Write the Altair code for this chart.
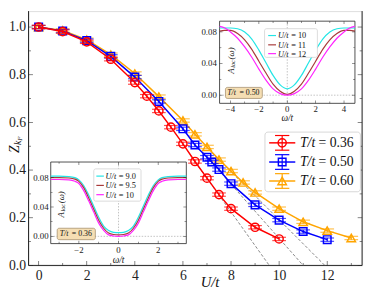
import altair as alt
import pandas as pd

# ---------------- main data ----------------
U_036 = [0, 1, 2, 3, 4, 4.5, 5, 5.5, 6, 6.5, 7, 7.5, 8, 9, 10]
Z_036 = [1.0, 0.981, 0.938, 0.865, 0.767, 0.710, 0.648, 0.580, 0.510, 0.436, 0.366, 0.297, 0.238, 0.160, 0.111]
U_050 = [0, 1, 2, 3, 4, 5, 6, 6.5, 7, 7.2, 7.5, 8, 9, 10, 11, 12]
Z_050 = [1.0, 0.983, 0.943, 0.877, 0.790, 0.688, 0.573, 0.505, 0.454, 0.434, 0.402, 0.343, 0.254, 0.190, 0.142, 0.108]
U_060 = [0, 1, 2, 3, 4, 5, 6, 6.5, 7, 7.5, 8, 8.5, 9, 10, 11, 12, 13]
Z_060 = [1.0, 0.986, 0.947, 0.884, 0.805, 0.708, 0.608, 0.550, 0.497, 0.444, 0.396, 0.348, 0.306, 0.238, 0.183, 0.146, 0.115]
ERR = 0.007
LEGEND_T = ["0.36", "0.50", "0.60"]

# dashed linear extrapolations
DASH_X0 = [6.3, 6.8, 7.2]
DASH_Y0 = [0.464, 0.477, 0.474]
DASH_X1 = [9.59, 11.0, 11.9]
DASH_Y1 = [0.0, 0.0, 0.0]

# ---------------- inset 1 (T/t = 0.50) ----------------
W1 = [-4.77, -4.4, -4.0, -3.5, -3.0, -2.5, -2.0, -1.5, -1.0, -0.5, 0.0,
      0.5, 1.0, 1.5, 2.0, 2.5, 3.0, 3.5, 4.0, 4.4, 4.77]
A1_U10 = [0.085, 0.085, 0.085, 0.084, 0.080, 0.071, 0.057, 0.041, 0.025, 0.013, 0.008,
          0.013, 0.025, 0.041, 0.057, 0.071, 0.080, 0.084, 0.085, 0.085, 0.085]
A1_U11 = [0.081, 0.082, 0.082, 0.078, 0.070, 0.058, 0.043, 0.028, 0.014, 0.005, 0.001,
          0.005, 0.014, 0.028, 0.043, 0.058, 0.070, 0.078, 0.082, 0.082, 0.081]
A1_U12 = [0.087, 0.085, 0.080, 0.072, 0.061, 0.048, 0.033, 0.019, 0.008, 0.002, 0.000,
          0.002, 0.008, 0.019, 0.033, 0.048, 0.061, 0.072, 0.080, 0.085, 0.087]
INSET1_LABELS = ["10", "11", "12"]

# ---------------- inset 2 (T/t = 0.36) ----------------
W2 = [-3.42, -3.0, -2.5, -2.2, -2.0, -1.75, -1.5, -1.25, -1.0, -0.75, -0.5, -0.25, 0.0,
      0.25, 0.5, 0.75, 1.0, 1.25, 1.5, 1.75, 2.0, 2.2, 2.5, 3.0, 3.42]
A2_U90 = [0.082, 0.082, 0.0815, 0.080, 0.077, 0.069, 0.056, 0.041, 0.026, 0.014, 0.008, 0.0055, 0.005,
          0.0055, 0.008, 0.014, 0.026, 0.041, 0.056, 0.069, 0.077, 0.080, 0.0815, 0.082, 0.082]
A2_U95 = [0.080, 0.080, 0.0795, 0.078, 0.075, 0.066, 0.052, 0.037, 0.022, 0.011, 0.0045, 0.0025, 0.002,
          0.0025, 0.0045, 0.011, 0.022, 0.037, 0.052, 0.066, 0.075, 0.078, 0.0795, 0.080, 0.080]
A2_U10 = [0.0775, 0.0775, 0.077, 0.075, 0.072, 0.062, 0.048, 0.033, 0.018, 0.008, 0.002, 0.0005, 0.0,
          0.0005, 0.002, 0.008, 0.018, 0.033, 0.048, 0.062, 0.072, 0.075, 0.077, 0.0775, 0.0775]
INSET2_LABELS = ["9.0", "9.5", "10"]

# ---------------- layout (page pixels) ----------------
OX, OY = 29, 8          # plot-area origin on the page
W, H = 341, 260
XDOM = [-0.42, 13.45]
YDOM = [0.0, 1.0669]
SERIF = "Liberation Serif"
FRAME = "#222222"

def px(x):
    return x - OX

def py(y):
    return y - OY

def sc(dom, rng):
    return alt.Scale(domain=dom, range=rng, nice=False, zero=False)

MX = lambda: sc(XDOM, [0, W])
MY = lambda: sc(YDOM, [H, 0])

layers = []

def text(s, x, y, size, italic=False, align="left", baseline="middle", angle=0, color="#111111"):
    kw = dict(font=SERIF, fontSize=size, align=align, baseline=baseline, color=color)
    if italic:
        kw["fontStyle"] = "italic"
    if angle:
        kw["angle"] = angle
    return alt.Chart(pd.DataFrame({"t": [s]})).mark_text(**kw).encode(
        x=alt.value(px(x)), y=alt.value(py(y)), text="t:N")

def box(x0, x1, y0, y1, fill, stroke, sw=0.8, r=0):
    return alt.Chart(pd.DataFrame({"a": [0]})).mark_rect(
        fill=fill, stroke=stroke, strokeWidth=sw, cornerRadius=r).encode(
        x=alt.value(px(x0)), x2=alt.value(px(x1)), y=alt.value(py(y0)), y2=alt.value(py(y1)))

def seg(x0, x1, y0, y1, color, sw=1.0, dash=None):
    kw = dict(color=color, strokeWidth=sw)
    if dash:
        kw["strokeDash"] = dash
    return alt.Chart(pd.DataFrame({"a": [0]})).mark_rule(**kw).encode(
        x=alt.value(px(x0)), x2=alt.value(px(x1)), y=alt.value(py(y0)), y2=alt.value(py(y1)))

# ---------------- main axes (labels only) ----------------
axis_df = pd.DataFrame({"U": [0.0], "Z": [1.0]})
layers.append(alt.Chart(axis_df).mark_point(opacity=0).encode(
    x=alt.X("U:Q", scale=MX(), axis=alt.Axis(values=[0, 2, 4, 6, 8, 10, 12], ticks=False, domain=False,
            grid=False, title=None, labelFont=SERIF, labelFontSize=14, labelColor="#222",
            labelPadding=3, labelFlush=False)),
    y=alt.Y("Z:Q", scale=MY(), axis=alt.Axis(values=[0.0, 0.2, 0.4, 0.6, 0.8, 1.0], format=".1f",
            ticks=False, domain=False, grid=False, title=None, labelFont=SERIF, labelFontSize=14,
            labelColor="#222", labelPadding=3, labelFlush=False))))

# main frame (left, bottom, right)
layers.append(seg(OX, OX, OY, OY + H, FRAME))
layers.append(seg(OX, OX + W, OY + H, OY + H, FRAME))
layers.append(seg(OX + W, OX + W, OY, OY + H, FRAME))

# inward ticks, main
XT_MAJ = [0, 2, 4, 6, 8, 10, 12]
XT_MIN = [1, 3, 5, 7, 9, 11, 13]
YT_MAJ = [0.0, 0.2, 0.4, 0.6, 0.8, 1.0]
YT_MIN = [0.1, 0.3, 0.5, 0.7, 0.9]
for vals, ln in [(XT_MAJ, 4.5), (XT_MIN, 2.5)]:
    d = pd.DataFrame({"v": vals})
    layers.append(alt.Chart(d).mark_tick(orient="vertical", size=ln, thickness=0.8, color=FRAME).encode(
        x=alt.X("v:Q", scale=MX(), axis=None), y=alt.value(H - ln / 2)))
for vals, ln in [(YT_MAJ, 4.5), (YT_MIN, 2.5)]:
    d = pd.DataFrame({"v": vals})
    for xv in [ln / 2, W - ln / 2]:
        layers.append(alt.Chart(d).mark_tick(orient="horizontal", size=ln, thickness=0.8, color=FRAME).encode(
            y=alt.Y("v:Q", scale=MY(), axis=None), x=alt.value(xv)))

# dashed extrapolation lines
dash_df = pd.DataFrame({"x0": DASH_X0, "y0": DASH_Y0, "x1": DASH_X1, "y1": DASH_Y1})
layers.append(alt.Chart(dash_df).mark_rule(color="#777777", strokeWidth=0.9, strokeDash=[3, 2]).encode(
    x=alt.X("x0:Q", scale=MX(), axis=None), y=alt.Y("y0:Q", scale=MY(), axis=None),
    x2="x1:Q", y2="y1:Q"))

# series
SERIES = [
    (U_060, Z_060, "#ffa500", "triangle-up", 75),
    (U_050, Z_050, "#0000ff", "square", 60),
    (U_036, Z_036, "#ff0000", "circle", 70),
]
for U, Z, col, shp, size in SERIES:
    df = pd.DataFrame({"U": U, "Z": Z})
    df["lo"] = df["Z"] - ERR
    df["hi"] = df["Z"] + ERR
    b = alt.Chart(df)
    X = alt.X("U:Q", scale=MX(), axis=None)
    layers.append(b.mark_line(color=col, strokeWidth=1.5).encode(x=X, y=alt.Y("Z:Q", scale=MY(), axis=None)))
    layers.append(b.mark_rule(color=col, strokeWidth=1.2).encode(
        x=X, y=alt.Y("lo:Q", scale=MY(), axis=None), y2="hi:Q"))
    for f in ["lo", "hi"]:
        layers.append(b.mark_tick(orient="horizontal", size=14, thickness=1.2, color=col).encode(
            x=X, y=alt.Y(f + ":Q", scale=MY(), axis=None)))
    layers.append(b.mark_point(shape=shp, filled=False, color=col, size=size, strokeWidth=1.5, opacity=1).encode(
        x=X, y=alt.Y("Z:Q", scale=MY(), axis=None)))

# ---------------- main legend ----------------
layers.append(box(270.7, 368.3, 131.7, 192.7, "white", "#cccccc", 0.8, 3))
LEG_Y = [142.7, 162.3, 181.7]
LEG_C = ["#ff0000", "#0000ff", "#ffa500"]
LEG_S = ["circle", "square", "triangle-up"]
LEG_Z = [70, 60, 75]
for i in range(3):
    yy = LEG_Y[i]
    c = LEG_C[i]
    layers.append(seg(275, 301.7, yy, yy, c, 1.5))
    layers.append(seg(288.3, 288.3, yy - 7.5, yy + 7.5, c, 1.2))
    layers.append(seg(281, 295.6, yy - 7.5, yy - 7.5, c, 1.2))
    layers.append(seg(281, 295.6, yy + 7.5, yy + 7.5, c, 1.2))
    layers.append(alt.Chart(pd.DataFrame({"a": [0]})).mark_point(
        shape=LEG_S[i], filled=False, color=c, size=LEG_Z[i], strokeWidth=1.5, opacity=1).encode(
        x=alt.value(px(288.3)), y=alt.value(py(yy))))
    layers.append(text("T/t", 306.5, yy, 14, italic=True))
    layers.append(text("= " + LEGEND_T[i], 325.5, yy, 14))

# main axis titles
layers.append(text("U/t", 214.5, 285, 15, italic=True, align="center"))
layers.append(text("Z", 15.5, 153, 14, italic=True, angle=270))
layers.append(text("k", 18.5, 145, 10, italic=True, angle=270))
layers.append(text("F", 20.5, 140.5, 7, italic=True, angle=270))

# ---------------- insets ----------------
def inset(frame, xdom, ydom, W_, curves, labels, xt_maj, xt_min, yt_maj, yt_min,
          ylab_right, xlab_y, xtitle, ytitle, legbox, leg_rows, leg_seg, leg_txt, tbox, ttext):
    x0, x1, y0, y1 = frame
    XS = lambda: sc(xdom, [px(x0), px(x1)])
    YS = lambda: sc(ydom, [py(y1), py(y0)])
    L = []
    L.append(box(x0, x1, y0, y1, "white", FRAME, 0.8))
    # dotted reference lines
    L.append(alt.Chart(pd.DataFrame({"v": [0.0]})).mark_rule(color="#999999", strokeWidth=0.6, strokeDash=[1.5, 1.5]).encode(
        x=alt.X("v:Q", scale=XS(), axis=None), y=alt.value(py(y0)), y2=alt.value(py(y1))))
    L.append(alt.Chart(pd.DataFrame({"v": [0.0]})).mark_rule(color="#999999", strokeWidth=0.6, strokeDash=[1.5, 1.5]).encode(
        y=alt.Y("v:Q", scale=YS(), axis=None), x=alt.value(px(x0)), x2=alt.value(px(x1))))
    for A, col in curves:
        d = pd.DataFrame({"w": W_, "A": A})
        L.append(alt.Chart(d).mark_line(color=col, strokeWidth=1.2, interpolate="monotone", clip=False).encode(
            x=alt.X("w:Q", scale=XS(), axis=None), y=alt.Y("A:Q", scale=YS(), axis=None)))
    # inward ticks
    for vals, ln in [(xt_maj, 3), (xt_min, 1.8)]:
        d = pd.DataFrame({"v": vals})
        for yy in [py(y1) - ln / 2, py(y0) + ln / 2]:
            L.append(alt.Chart(d).mark_tick(orient="vertical", size=ln, thickness=0.7, color=FRAME).encode(
                x=alt.X("v:Q", scale=XS(), axis=None), y=alt.value(yy)))
    for vals, ln in [(yt_maj, 3), (yt_min, 1.8)]:
        d = pd.DataFrame({"v": vals})
        for xx in [px(x0) + ln / 2, px(x1) - ln / 2]:
            L.append(alt.Chart(d).mark_tick(orient="horizontal", size=ln, thickness=0.7, color=FRAME).encode(
                y=alt.Y("v:Q", scale=YS(), axis=None), x=alt.value(xx)))
    # tick labels
    xl = pd.DataFrame({"v": xt_maj, "t": [("\u2212" + str(abs(int(v)))) if v < 0 else str(int(v)) for v in xt_maj]})
    L.append(alt.Chart(xl).mark_text(font=SERIF, fontSize=9, color="#222", baseline="middle").encode(
        x=alt.X("v:Q", scale=XS(), axis=None), y=alt.value(py(xlab_y)), text="t:N"))
    yl = pd.DataFrame({"v": yt_maj, "t": ["%.2f" % v for v in yt_maj]})
    L.append(alt.Chart(yl).mark_text(font=SERIF, fontSize=9, color="#222", align="right", baseline="middle").encode(
        y=alt.Y("v:Q", scale=YS(), axis=None), x=alt.value(px(ylab_right)), text="t:N"))
    # titles
    L.append(text("\u03c9/t", xtitle[0], xtitle[1], 9.5, italic=True, align="center"))
    tx, tyb = ytitle
    L.append(text("A", tx, tyb, 9, italic=True, angle=270))
    L.append(text("loc", tx + 2, tyb - 6, 6.5, italic=True, angle=270))
    L.append(text("(\u03c9)", tx, tyb - 14.5, 9, italic=True, angle=270))
    # legend
    L.append(box(legbox[0], legbox[1], legbox[2], legbox[3], "white", "#cccccc", 0.7, 2))
    for (A, col), yy, lab in zip(curves, leg_rows, labels):
        L.append(seg(leg_seg[0], leg_seg[1], yy, yy, col, 1.2))
        L.append(text("U/t", leg_txt, yy, 8.5, italic=True))
        L.append(text("= " + lab, leg_txt + 13.5, yy, 8.5))
    # temperature box
    L.append(box(tbox[0], tbox[1], tbox[2], tbox[3], "#f5deb3", "#9c8460", 0.7, 2))
    cx = (tbox[0] + tbox[1]) / 2
    cy = (tbox[2] + tbox[3]) / 2
    L.append(text("T/t", cx - 17, cy, 8, italic=True))
    L.append(text("= " + ttext, cx - 4.5, cy, 8))
    return L

layers += inset((224.3, 362.7, 18.3, 102.3), [-4.77, 4.77], [-0.0103, 0.0936], W1,
                [(A1_U10, "#22e5e5"), (A1_U11, "#a83a3a"), (A1_U12, "#ff22ff")], INSET1_LABELS,
                [-4, -2, 0, 2, 4], [-3, -1, 1, 3], [0.0, 0.04, 0.08], [0.02, 0.06],
                221.5, 108.0, (293.5, 117.5), (236, 72),
                (270.3, 324.3, 26, 55.3), [33.0, 42.5, 51.5], (274, 282), 284,
                (230.3, 268, 86, 97.3), "0.50")

layers += inset((51.7, 190.3, 162.3, 245.7), [-3.42, 3.42], [-0.0099, 0.1013], W2,
                [(A2_U90, "#22e5e5"), (A2_U95, "#a83a3a"), (A2_U10, "#ff22ff")], INSET2_LABELS,
                [-2, 0, 2], [-3, -1, 1, 3], [0.0, 0.04, 0.08], [0.02, 0.06],
                49.5, 252.5, (121, 262.5), (62, 219),
                (95.7, 144, 169.3, 202.3), [176.7, 186.2, 195.7], (98.3, 106), 107.8,
                (58.3, 97.3, 230, 241.7), "0.36")

chart = alt.layer(*layers).resolve_scale(x="independent", y="independent").properties(
    width=W, height=H,
    autosize=alt.AutoSizeParams(type="none"),
    padding={"left": 21, "top": 0, "right": 4, "bottom": 23},
).configure_view(stroke=None).configure(background="white")

chart.save("out.html", embed_options={"renderer": "svg", "actions": False})
